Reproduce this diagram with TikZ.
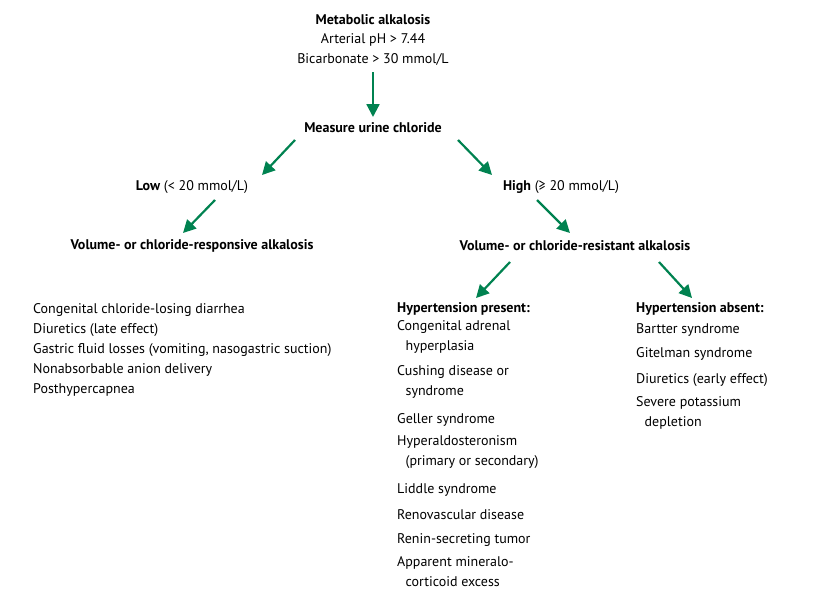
\documentclass[tikz,border=0pt]{standalone}
\usepackage{fontspec}
\setmainfont{PT Sans}
\usetikzlibrary{arrows.meta}
\definecolor{arrowgreen}{RGB}{0,130,80}
\tikzset{%
  >={Triangle[width=4.5mm,length=4.5mm]},
  % Specifications for style of nodes:
      txt/.style = {inner sep=0pt, font=\fontsize{14}{20}\selectfont},
     head/.style = {txt, font=\fontsize{14}{20}\selectfont\bfseries},
     item/.style = {txt, anchor=west, align=left},
  flowarrow/.style = {->, draw=arrowgreen, fill=arrowgreen, line width=2.2pt},
}
\newcommand{\ind}{\hspace*{0.6em}}
\begin{document}
\begin{tikzpicture}[x=1pt, y=-1pt]
  \useasboundingbox (0,0) rectangle (818,613);

  \node (meta)    [head] at (373,20) {Metabolic alkalosis};
  \node (ph)      [txt]  at (373,40) {Arterial pH > 7.44};
  \node (bicarb)  [txt]  at (373,59) {Bicarbonate > 30 mmol/L};
  \node (measure) [head] at (373,128) {Measure urine chloride};
  \node (low)     [txt]  at (192,187) {\textbf{Low} (< 20 mmol/L)};
  \node (high)    [txt]  at (561,187) {\textbf{High} (≥ 20 mmol/L)};
  \node (resp)    [head] at (192,246) {Volume- or chloride-responsive alkalosis};
  \node (resist)  [head] at (575,246) {Volume- or chloride-resistant alkalosis};

  \coordinate (a1) at (373,72);   \coordinate (b1) at (373,117);
  \coordinate (a2) at (295,140);  \coordinate (b2) at (262,175);
  \coordinate (a3) at (458,140);  \coordinate (b3) at (492,175);
  \coordinate (a4) at (215,200);  \coordinate (b4) at (183,233);
  \coordinate (a5) at (537,200);  \coordinate (b5) at (570,233);
  \coordinate (a6) at (510,262);  \coordinate (b6) at (476,298);
  \coordinate (a7) at (659,262);  \coordinate (b7) at (692,298);
  \foreach \i in {1,...,7}
    \draw[flowarrow] (a\i) -- (b\i);

  % left list
  \foreach \t [count=\k from 0] in {Congenital chloride-losing diarrhea,
      Diuretics (late effect),
      {Gastric fluid losses (vomiting, nasogastric suction)},
      Nonabsorbable anion delivery, Posthypercapnea}
    \node (resp-\k) [item] at (33,310+20*\k) {\t};

  % middle list
  \node (present) [item, font=\fontsize{14}{20}\selectfont\bfseries] at (397,309) {Hypertension present:};
  \node (p1) [item, anchor=north west] at (397,320) {Congenital adrenal\\\ind hyperplasia};
  \node (p2) [item, anchor=north west] at (397,365) {Cushing disease or\\\ind syndrome};
  \node (p3) [item] at (397,420) {Geller syndrome};
  \node (p4) [item, anchor=north west] at (397,435) {Hyperaldosteronism\\\ind (primary or secondary)};
  \node (p5) [item] at (397,490) {Liddle syndrome};
  \node (p6) [item] at (397,515) {Renovascular disease};
  \node (p7) [item] at (397,540) {Renin-secreting tumor};
  \node (p8) [item, anchor=north west] at (397,556) {Apparent mineralo-\\\ind corticoid excess};

  % right list
  \node (absent) [item, font=\fontsize{14}{20}\selectfont\bfseries] at (636,309) {Hypertension absent:};
  \node (r1) [item] at (636,330) {Bartter syndrome};
  \node (r2) [item] at (636,354) {Gitelman syndrome};
  \node (r3) [item] at (636,380) {Diuretics (early effect)};
  \node (r4) [item, anchor=north west] at (636,396) {Severe potassium\\\ind depletion};
\end{tikzpicture}
\end{document}
